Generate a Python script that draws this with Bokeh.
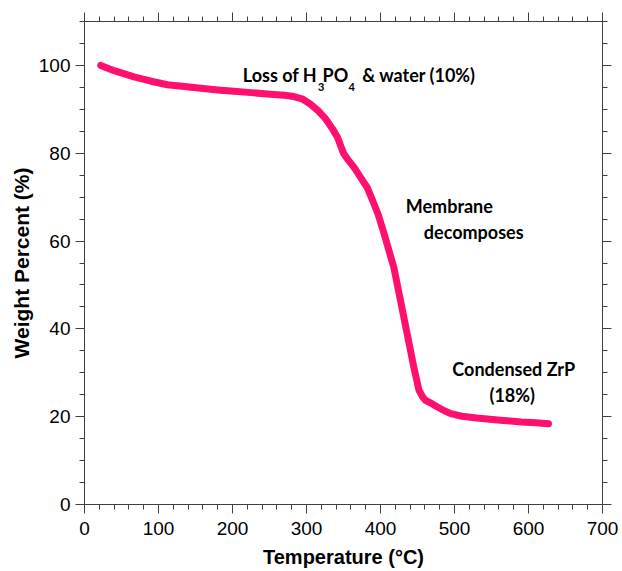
from bokeh.plotting import figure
from bokeh.models import (Range1d, LinearAxis, FixedTicker, Label,
                          CustomJSTickFormatter)
from bokeh.embed import file_html
from bokeh.resources import INLINE

# ---- data ----
temperature = [22, 40, 67, 90, 112, 135, 157, 180, 202, 225, 247, 270, 283,
               295, 305, 315, 325, 335, 342, 350, 357, 365, 375, 382, 389,
               397, 405, 418, 427, 436, 445, 452, 457, 461, 470, 477, 487,
               495, 510, 530, 562, 590, 610, 627]
weight = [100.0, 98.8, 97.4, 96.4, 95.6, 95.2, 94.8, 94.4, 94.1, 93.8, 93.5,
          93.2, 92.9, 92.3, 91.2, 89.8, 88.0, 85.6, 83.6, 80.0, 78.3, 76.6,
          74.0, 72.2, 69.4, 66.0, 61.6, 54.0, 46.5, 38.9, 31.3, 26.0, 24.5,
          23.7, 22.9, 22.2, 21.3, 20.7, 20.1, 19.7, 19.2, 18.8, 18.6, 18.4]

x_major = [0, 100, 200, 300, 400, 500, 600, 700]
x_minor = list(range(0, 701, 20))
y_major = [0, 20, 40, 60, 80, 100]
y_minor = list(range(0, 111, 5))

AXIS_COLOR = "#404040"
CURVE_COLOR = "#ff0f6e"
TICK_FONT = "Liberation Sans"
ANN_FONT = "Lato"

p = figure(width=622, height=571, output_backend="svg", toolbar_location=None,
           x_range=Range1d(0, 700), y_range=Range1d(0, 110),
           min_border_left=84, min_border_right=20, min_border_top=21,
           min_border_bottom=67, x_axis_label="Temperature (°C)",
           y_axis_label="Weight Percent (%)")
p.xgrid.visible = False
p.ygrid.visible = False
p.outline_line_color = AXIS_COLOR
p.background_fill_color = "white"
p.border_fill_color = "white"

p.xaxis.ticker = FixedTicker(ticks=x_major, minor_ticks=x_minor)
p.yaxis.ticker = FixedTicker(ticks=y_major, minor_ticks=y_minor)


def style_axis(ax):
    ax.axis_line_color = AXIS_COLOR
    ax.major_tick_line_color = AXIS_COLOR
    ax.minor_tick_line_color = AXIS_COLOR
    ax.major_tick_in = 0
    ax.major_tick_out = 9
    ax.minor_tick_in = 0
    ax.minor_tick_out = 5
    ax.major_label_text_font = TICK_FONT
    ax.major_label_text_font_size = "19px"
    ax.major_label_text_color = "black"
    ax.axis_label_text_font = TICK_FONT
    ax.axis_label_text_font_style = "bold"
    ax.axis_label_text_color = "black"


for ax in p.xaxis + p.yaxis:
    style_axis(ax)
p.xaxis.axis_label_text_font_size = "20px"
p.yaxis.axis_label_text_font_size = "21px"
p.xaxis.major_label_standoff = 8
p.xaxis.axis_label_standoff = 8
p.yaxis.major_label_standoff = 5
p.yaxis.axis_label_standoff = 3

blank = CustomJSTickFormatter(code="return ''")
top = LinearAxis(ticker=FixedTicker(ticks=x_major, minor_ticks=x_minor),
                 formatter=blank)
right = LinearAxis(ticker=FixedTicker(ticks=y_major, minor_ticks=y_minor),
                   formatter=blank)
for ax in (top, right):
    style_axis(ax)
    ax.major_label_text_font_size = "1px"
    ax.major_label_standoff = 0
p.add_layout(top, "above")
p.add_layout(right, "right")

p.line(temperature, weight, line_width=7, line_color=CURVE_COLOR,
       line_cap="round", line_join="round")


def ann(text, x, y, size="18px"):
    p.add_layout(Label(x=x, y=y, text=text, text_align="center",
                       text_baseline="alphabetic", text_font=ANN_FONT,
                       text_font_style="bold", text_font_size=size,
                       text_color="black"))


ann("Loss of H", 264, 97.9)
ann("3", 320, 95.1, "11px")
ann("PO", 339, 97.9)
ann("4", 361, 95.1, "11px")
ann("& water (10%)", 452, 97.9)
ann("Membrane", 493, 68.0)
ann("decomposes", 526, 62.1)
ann("Condensed ZrP", 580, 30.8)
ann("(18%)", 578, 24.9)

open("out.html", "w").write(file_html(p, INLINE))
